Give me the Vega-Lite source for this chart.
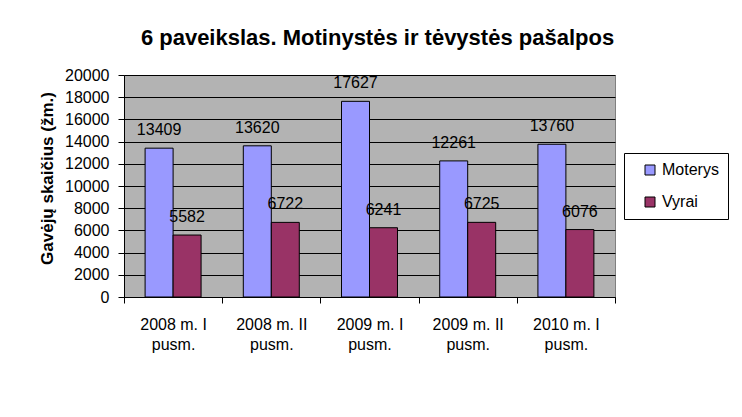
{
  "$schema": "https://vega.github.io/schema/vega-lite/v6.json",
  "width": 491,
  "height": 222,
  "autosize": {"type": "none"},
  "padding": {"left": 124, "top": 75, "right": 127, "bottom": 120},
  "background": "white",
  "title": {
    "text": "6 paveikslas. Motinystės ir tėvystės pašalpos",
    "font": "Liberation Sans",
    "fontSize": 22,
    "fontWeight": "bold",
    "color": "black",
    "anchor": "middle",
    "frame": "group",
    "dx": 8,
    "offset": 17
  },
  "config": {
    "view": {"stroke": "#808080", "fill": "#b3b3b3"},
    "font": "Liberation Sans",
    "text": {"font": "Liberation Sans"}
  },
  "data": {
    "values": [
      {"laikotarpis": "2008 m. I pusm.", "lytis": "Moterys", "gavejai": 13409},
      {"laikotarpis": "2008 m. I pusm.", "lytis": "Vyrai", "gavejai": 5582},
      {"laikotarpis": "2008 m. II pusm.", "lytis": "Moterys", "gavejai": 13620},
      {"laikotarpis": "2008 m. II pusm.", "lytis": "Vyrai", "gavejai": 6722},
      {"laikotarpis": "2009 m. I pusm.", "lytis": "Moterys", "gavejai": 17627},
      {"laikotarpis": "2009 m. I pusm.", "lytis": "Vyrai", "gavejai": 6241},
      {"laikotarpis": "2009 m. II pusm.", "lytis": "Moterys", "gavejai": 12261},
      {"laikotarpis": "2009 m. II pusm.", "lytis": "Vyrai", "gavejai": 6725},
      {"laikotarpis": "2010 m. I pusm.", "lytis": "Moterys", "gavejai": 13760},
      {"laikotarpis": "2010 m. I pusm.", "lytis": "Vyrai", "gavejai": 6076}
    ]
  },
  "encoding": {
    "x": {
      "field": "laikotarpis",
      "type": "nominal",
      "sort": null,
      "scale": {"paddingInner": 0, "paddingOuter": 0},
      "axis": {
        "title": null,
        "labelAngle": 0,
        "labelExpr": "datum.label ? [replace(datum.label, ' pusm.', ''), 'pusm.'] : ''",
        "labelFont": "Liberation Sans",
        "labelFontSize": 16,
        "labelColor": "black",
        "labelLineHeight": 20,
        "labelPadding": 26,
        "labelBaseline": "alphabetic",
        "tickBand": "extent",
        "tickSize": 6,
        "tickColor": "black",
        "domainColor": "black",
        "grid": false
      }
    },
    "xOffset": {
      "field": "lytis",
      "type": "nominal",
      "scale": {"paddingInner": 0, "paddingOuter": 0.754}
    },
    "y": {
      "field": "gavejai",
      "type": "quantitative",
      "scale": {"domain": [0, 20000], "nice": false},
      "axis": {
        "title": "Gavėjų skaičius (žm.)",
        "titleFont": "Liberation Sans",
        "titleFontSize": 17,
        "titleFontWeight": "bold",
        "titleColor": "black",
        "titleX": -72,
        "titleY": 103,
        "titleBaseline": "alphabetic",
        "titleAngle": -90,
        "titleAlign": "center",
        "values": [0, 2000, 4000, 6000, 8000, 10000, 12000, 14000, 16000, 18000, 20000],
        "format": "d",
        "labelFont": "Liberation Sans",
        "labelFontSize": 16,
        "labelColor": "black",
        "labelPadding": 9,
        "tickSize": 6,
        "tickColor": "black",
        "domainColor": "black",
        "gridColor": "black",
        "gridOpacity": 1,
        "gridWidth": 1
      }
    }
  },
  "layer": [
    {
      "mark": {"type": "bar", "stroke": "black", "strokeWidth": 1},
      "encoding": {
        "color": {
          "field": "lytis",
          "type": "nominal",
          "scale": {"domain": ["Moterys", "Vyrai"], "range": ["#9999ff", "#993366"]},
          "legend": {
            "title": null,
            "orient": "none",
            "legendX": 500,
            "legendY": 78,
            "strokeColor": "black",
            "fillColor": "white",
            "padding": 9,
            "symbolOffset": 9,
            "rowPadding": 16,
            "labelFont": "Liberation Sans",
            "labelFontSize": 16,
            "labelColor": "black",
            "labelOffset": 4,
            "symbolType": "square",
            "symbolSize": 100,
            "symbolStrokeColor": "black",
            "symbolStrokeWidth": 1
          }
        }
      }
    },
    {
      "mark": {
        "type": "text",
        "baseline": "alphabetic",
        "align": "center",
        "dy": -13,
        "fontSize": 16,
        "font": "Liberation Sans",
        "color": "black"
      },
      "encoding": {
        "text": {"field": "gavejai", "type": "quantitative", "format": "d"}
      }
    }
  ]
}
